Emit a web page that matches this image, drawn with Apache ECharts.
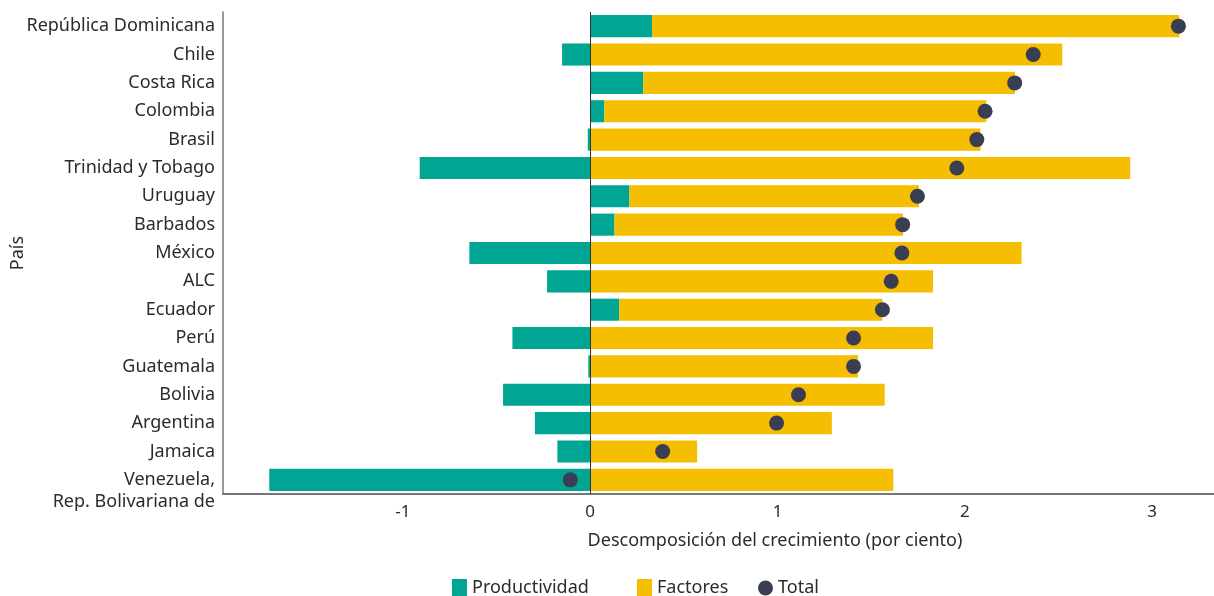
<!DOCTYPE html>
<html>
<head>
<meta charset="utf-8">
<script src="https://cdn.jsdelivr.net/npm/echarts@6/dist/echarts.min.js"></script>
<style>
html,body{margin:0;padding:0;background:#fff;}
#c{width:1214px;height:596px;}
</style>
</head>
<body>
<div id="c"></div>
<script>
const categories = ["República Dominicana","Chile","Costa Rica","Colombia","Brasil","Trinidad y Tobago","Uruguay","Barbados","México","ALC","Ecuador","Perú","Guatemala","Bolivia","Argentina","Jamaica","Venezuela,\nRep. Bolivariana de"];
const productividad = [0.33,-0.15,0.283,0.075,-0.013,-0.91,0.21,0.13,-0.645,-0.23,0.155,-0.415,-0.01,-0.465,-0.295,-0.175,-1.713];
const factores = [2.815,2.52,1.985,2.04,2.083,2.883,1.545,1.54,2.303,1.83,1.405,1.83,1.43,1.572,1.29,0.571,1.618];
const total = [3.14,2.365,2.266,2.108,2.064,1.957,1.747,1.668,1.664,1.607,1.56,1.406,1.406,1.112,0.995,0.387,-0.106];
const xTicks = [-1,0,1,2,3];
const seriesNames = ['Productividad','Factores','Total'];

const FONT = 'Noto Sans';
const TXT = '#2b2b2b';
const FS = 18;
const legendLefts = [452,637,758];
const legendIcons = ['rect','rect','circle'];
const chart = echarts.init(document.getElementById('c'));
chart.setOption({
  animation:false,
  textStyle:{fontFamily:FONT},
  grid:{left:223,right:0,top:12,bottom:102,containLabel:false,outerBoundsMode:'none'},
  legend: seriesNames.map((n,i)=>({
    left:legendLefts[i],top:579,padding:0,
    itemWidth:15,itemHeight:18,
    textStyle:{fontFamily:FONT,fontSize:FS,color:TXT},
    data:[{name:n,icon:legendIcons[i]}]
  })),
  xAxis:{
    type:'value',min:-1.96,max:3.33,
    name:'Descomposición del crecimiento (por ciento)',
    nameLocation:'middle',nameGap:38,nameMoveOverlap:false,
    nameTextStyle:{fontFamily:FONT,fontSize:FS,color:TXT,padding:[0,0,0,113]},
    axisLine:{show:true,onZero:false,lineStyle:{color:'#777',width:2}},
    axisTick:{show:false},
    splitLine:{show:false},
    axisLabel:{customValues:xTicks,fontFamily:FONT,fontSize:17,color:TXT,margin:10,
      formatter:v=>String(v)}
  },
  yAxis:{
    type:'category',data:categories,inverse:true,
    name:'País',nameLocation:'middle',nameGap:196,nameRotate:90,nameMoveOverlap:false,
    nameTextStyle:{fontFamily:FONT,fontSize:FS,color:TXT},
    axisLine:{show:true,onZero:false,lineStyle:{color:'#777',width:1.5}},
    axisTick:{show:false},
    axisLabel:{interval:0,fontFamily:FONT,fontSize:FS,color:TXT,margin:8,lineHeight:22,
      formatter:v=> v.indexOf('\n')>=0 ? ' \n'+v : v}
  },
  series:[
    {name:'Productividad',type:'bar',stack:'g',data:productividad,barCategoryGap:'22%',
      itemStyle:{color:'#00A693'},
      markLine:{silent:true,symbol:'none',label:{show:false},lineStyle:{color:'#333',width:1,type:'solid'},data:[{xAxis:0}]}},
    {name:'Factores',type:'bar',stack:'g',data:factores,barCategoryGap:'22%',itemStyle:{color:'#F5BE00'}},
    {name:'Total',type:'scatter',data:total,symbolSize:15,itemStyle:{color:'#3A3E53',opacity:1},z:5}
  ]
});
</script>
</body>
</html>
